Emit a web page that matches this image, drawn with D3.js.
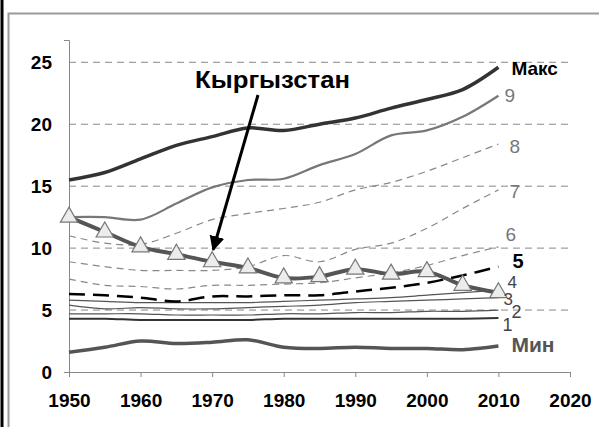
<!DOCTYPE html>
<html>
<head>
<meta charset="utf-8">
<script src="https://cdn.jsdelivr.net/npm/d3@7"></script>
<style>
  body { margin: 0; background: #fff; }
  svg { font-family: "Liberation Sans", Arial, sans-serif; }
</style>
</head>
<body>
<div id="chart-area"></div>
<script>
// years, one point every 5 years
const years = [1950, 1955, 1960, 1965, 1970, 1975, 1980, 1985, 1990, 1995, 2000, 2005, 2010]

const maxVals = [15.5, 16.1, 17.2, 18.3, 19.0, 19.7, 19.5, 20.0, 20.5, 21.3, 22.0, 22.8, 24.6]
const s9 = [12.5, 12.5, 12.3, 13.6, 14.9, 15.5, 15.6, 16.7, 17.6, 19.1, 19.5, 20.6, 22.3]
const s8 = [11.0, 10.4, 10.3, 11.2, 12.3, 12.8, 13.2, 13.7, 14.7, 15.3, 16.2, 17.3, 18.4]
const s7 = [8.9, 8.5, 8.2, 8.2, 8.2, 8.5, 9.4, 8.9, 9.9, 10.4, 11.6, 13.2, 14.7]
const s6 = [7.5, 7.0, 6.9, 6.7, 7.0, 7.0, 7.1, 7.2, 7.6, 8.0, 8.6, 9.4, 10.1]
const s5 = [6.3, 6.2, 6.0, 5.7, 6.1, 6.1, 6.2, 6.2, 6.5, 6.8, 7.2, 7.8, 8.5]
const s4 = [5.8, 5.7, 5.6, 5.6, 5.6, 5.6, 5.7, 5.8, 5.9, 6.0, 6.2, 6.4, 6.6]
const s3 = [5.4, 5.1, 5.2, 5.1, 5.1, 5.2, 5.3, 5.4, 5.6, 5.7, 5.8, 5.9, 6.0]
const s2 = [4.7, 4.7, 4.7, 4.6, 4.6, 4.6, 4.7, 4.7, 4.8, 4.8, 4.9, 4.9, 5.0]
const s1 = [4.3, 4.3, 4.2, 4.2, 4.2, 4.2, 4.3, 4.3, 4.3, 4.3, 4.3, 4.3, 4.35]
const minVals = [1.6, 2.0, 2.5, 2.3, 2.4, 2.6, 2.0, 1.9, 2.0, 1.9, 1.9, 1.8, 2.1]
const kyrgyz = [12.5, 11.3, 10.1, 9.5, 8.9, 8.4, 7.6, 7.7, 8.3, 7.9, 8.1, 7.0, 6.4]

const xTicks = [1950, 1960, 1970, 1980, 1990, 2000, 2010, 2020]
const yTicks = [0, 5, 10, 15, 20, 25]

const W = 599, H = 427
const x = d3.scaleLinear().domain([1950, 2020]).range([69, 570])
const y = d3.scaleLinear().domain([0, 26.8]).range([372, 40])

const svg = d3.select("#chart-area").append("svg")
    .attr("width", W)
    .attr("height", H)

// frame
svg.append("line").attr("x1", 2).attr("x2", 2).attr("y1", 0).attr("y2", H)
    .attr("stroke", "#000").attr("stroke-width", 3)
svg.append("path").attr("d", `M8.5,${H}V13.5H${W}`)
    .attr("fill", "none").attr("stroke", "#999").attr("stroke-width", 2)

// gridlines
svg.append("g").selectAll("line")
    .data(yTicks.filter(d => d > 0))
    .join("line")
    .attr("x1", x(1950)).attr("x2", x(2020))
    .attr("y1", d => y(d)).attr("y2", d => y(d))
    .attr("stroke", "#888").attr("stroke-dasharray", "7,5")

// axes
const xAxis = svg.append("g")
    .attr("transform", `translate(0, ${y(0)})`)
    .call(d3.axisBottom(x).tickValues(xTicks).tickFormat(d3.format("d")).tickSize(5).tickPadding(17))
const yAxis = svg.append("g")
    .attr("transform", `translate(${x(1950)}, 0)`)
    .call(d3.axisLeft(y).tickValues(yTicks).tickSize(5).tickPadding(12))
;[xAxis, yAxis].forEach(a => {
    a.select(".domain").attr("stroke", "#888")
    a.selectAll(".tick line").attr("stroke", "#888")
    a.selectAll("text").attr("font-size", 19).attr("font-weight", "bold")
        .attr("fill", "#000").attr("font-family", "Liberation Sans, Arial, sans-serif")
})
yAxis.selectAll(".tick").filter(d => d > 0).select("line").remove()

const line = d3.line()
    .x((d, i) => x(years[i]))
    .y(d => y(d))
    .curve(d3.curveCatmullRom.alpha(0.5))

const series = [
    {vals: s8, color: "#888", width: 1.2, dash: "7,5"},
    {vals: s7, color: "#888", width: 1.2, dash: "7,5"},
    {vals: s6, color: "#888", width: 1.2, dash: "7,5"},
    {vals: s4, color: "#555", width: 1.2},
    {vals: s3, color: "#555", width: 1.2},
    {vals: s2, color: "#555", width: 1.2},
    {vals: s1, color: "#333", width: 2},
    {vals: s5, color: "#000", width: 2.5, dash: "16,8"},
    {vals: s9, color: "#777", width: 2.2},
    {vals: maxVals, color: "#333", width: 3.5},
    {vals: minVals, color: "#555", width: 3.5},
    {vals: kyrgyz, color: "#555", width: 4}
]

svg.append("g").selectAll("path")
    .data(series)
    .join("path")
    .attr("fill", "none")
    .attr("stroke", d => d.color)
    .attr("stroke-width", d => d.width)
    .attr("stroke-dasharray", d => d.dash || null)
    .attr("d", d => line(d.vals))

// triangle markers on Kyrgyzstan
svg.append("g").selectAll("path")
    .data(kyrgyz)
    .join("path")
    .attr("transform", (d, i) => `translate(${x(years[i])}, ${y(d)})`)
    .attr("d", d3.symbol(d3.symbolTriangle, 130))
    .attr("fill", "#ececec")
    .attr("stroke", "#777")
    .attr("stroke-width", 1.2)

// end labels
const last = years.length - 1
const labels = [
    {text: "Макс", v: maxVals[last], dx: 13, dy: 8, size: 19, bold: true, color: "#000"},
    {text: "9", v: s9[last], dx: 6, dy: 6, size: 19, color: "#777"},
    {text: "8", v: s8[last], dx: 11, dy: 9, size: 19, color: "#777"},
    {text: "7", v: s7[last], dx: 11, dy: 8, size: 19, color: "#777"},
    {text: "6", v: s6[last], dx: 7, dy: -6, size: 19, color: "#777"},
    {text: "5", v: s5[last], dx: 14, dy: 1, size: 20, bold: true, color: "#000"},
    {text: "4", v: s4[last], dx: 9, dy: -2, size: 17, color: "#444"},
    {text: "3", v: s3[last], dx: 5, dy: 7, size: 17, color: "#444"},
    {text: "2", v: s2[last], dx: 13, dy: 8, size: 18, color: "#444"},
    {text: "1", v: s1[last], dx: 4, dy: 13, size: 18, color: "#444"},
    {text: "Мин", v: minVals[last], dx: 13, dy: 6, size: 21, bold: true, color: "#555"}
]
svg.append("g").selectAll("text")
    .data(labels)
    .join("text")
    .attr("x", d => x(years[last]) + d.dx)
    .attr("y", d => y(d.v) + d.dy)
    .attr("font-size", d => d.size)
    .attr("font-weight", d => d.bold ? "bold" : "normal")
    .attr("fill", d => d.color)
    .text(d => d.text)

// Kyrgyzstan callout
svg.append("text")
    .attr("x", 195).attr("y", 88)
    .attr("font-size", 23).attr("font-weight", "bold")
    .attr("textLength", 155).attr("lengthAdjust", "spacingAndGlyphs")
    .text("Кыргызстан")

svg.append("defs").append("marker")
    .attr("id", "arrow")
    .attr("viewBox", "0 0 10 10")
    .attr("refX", 9).attr("refY", 5)
    .attr("markerWidth", 5).attr("markerHeight", 5)
    .attr("orient", "auto")
    .append("path").attr("d", "M0,0L10,5L0,10z").attr("fill", "#000")

svg.append("line")
    .attr("x1", 258).attr("y1", 95)
    .attr("x2", x(1970) + 1).attr("y2", y(kyrgyz[4]) - 12)
    .attr("stroke", "#000").attr("stroke-width", 3)
    .attr("marker-end", "url(#arrow)")
</script>
</body>
</html>
